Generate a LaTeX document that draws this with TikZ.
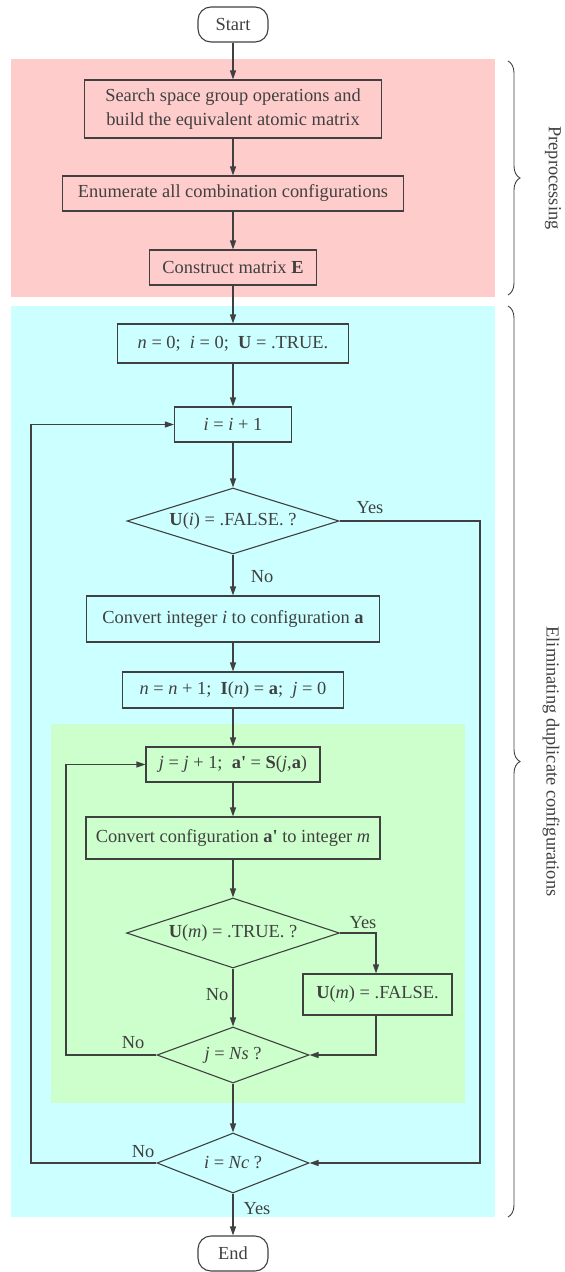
\documentclass[tikz,border=0pt]{standalone}
\usepackage{fontspec}
\setmainfont{Liberation Serif}
\usetikzlibrary{shapes.geometric,arrows.meta,decorations.pathreplacing}
\definecolor{flow-gray}{RGB}{64,64,64}
\definecolor{prep-pink}{RGB}{255,204,204}
\definecolor{elim-cyan}{RGB}{204,255,255}
\definecolor{inner-green}{RGB}{204,255,204}
\tikzset{
    flow-arrow/.style = {draw=flow-gray, line width=1.1pt, -{Triangle[length=9pt,width=6pt]}},
    flow-box/.style = {draw=flow-gray, line width=1.1pt, rectangle, inner sep=0pt, align=center, text=flow-gray},
    end-box/.style = {flow-box, rounded corners=13pt, minimum width=70pt, minimum height=35pt},
    ask-box/.style = {draw=flow-gray, line width=1.1pt, diamond, aspect=3.2, inner sep=0pt, text=flow-gray},
    answer-text/.style = {text=flow-gray, inner sep=0pt},
    side-brace/.style = {draw=flow-gray, line width=0.9pt, decorate, decoration={brace, amplitude=12pt}},
}

\begin{document}
\begin{tikzpicture}[x=1pt, y=-1pt, font=\fontsize{18.4}{23.3}\selectfont]
\useasboundingbox (0,0) rectangle (565,1272);
\fill[prep-pink] (11,59) rectangle (495,297);
\fill[elim-cyan] (11,306) rectangle (495,1217);
\fill[inner-green] (51,724) rectangle (465,1103);

\node[end-box] (start) at (233,24.5) {Start};
\node[flow-box, minimum width=297pt, minimum height=58pt] (search) at (233,109) {Search space group operations and\\build the equivalent atomic matrix};
\node[flow-box, minimum width=341pt, minimum height=35pt] (enum) at (233,193.5) {Enumerate all combination configurations};
\node[flow-box, minimum width=167pt, minimum height=35pt] (matrix) at (233,267.5) {Construct matrix \textbf{E}};
\node[flow-box, minimum width=231pt, minimum height=39pt] (init) at (233,343.5) {\textit{n} = 0;~ \textit{i} = 0;~ \textbf{U} = .TRUE.};
\node[flow-box, minimum width=117pt, minimum height=35pt] (inc-i) at (233,424.5) {\textit{i} = \textit{i} + 1};
\node[ask-box, minimum width=212pt, minimum height=66pt] (ask-ui) at (233,521) {\textbf{U}(\textit{i}) = .FALSE. ?};
\node[flow-box, minimum width=293pt, minimum height=46pt] (to-config) at (233,619) {Convert integer \textit{i} to configuration \textbf{a}};
\node[flow-box, minimum width=221pt, minimum height=36pt] (inc-n) at (233,690) {\textit{n} = \textit{n} + 1;~ \textbf{I}(\textit{n}) = \textbf{a};~ \textit{j} = 0};
\node[flow-box, minimum width=174pt, minimum height=35pt] (inc-j) at (233,764.5) {\textit{j} = \textit{j} + 1;~ \textbf{a}\textbf{\textquotesingle} = \textbf{S}(\textit{j},\textbf{a})};
\node[flow-box, minimum width=294pt, minimum height=42pt] (to-int) at (233,838) {Convert configuration \textbf{a}\textbf{\textquotesingle} to integer \textit{m}};
\node[ask-box, minimum width=213pt, minimum height=70pt] (ask-um) at (233,933) {\textbf{U}(\textit{m}) = .TRUE. ?};
\node[flow-box, minimum width=149pt, minimum height=41pt] (set-false) at (377.5,994.5) {\textbf{U}(\textit{m}) = .FALSE.};
\node[ask-box, minimum width=152pt, minimum height=56pt] (ask-ns) at (233,1055) {\textit{j} = \textit{Ns} ?};
\node[ask-box, minimum width=152pt, minimum height=60pt] (ask-nc) at (233,1163) {\textit{i} = \textit{Nc} ?};
\node[end-box] (end) at (233,1253.5) {End};

\coordinate (outer-loop) at (31,0);
\coordinate (inner-loop) at (66,0);
\coordinate (yes-side) at (480,0);

\draw[flow-arrow] (start) -- (search);
\draw[flow-arrow] (search) -- (enum);
\draw[flow-arrow] (enum) -- (matrix);
\draw[flow-arrow] (matrix) -- (init);
\draw[flow-arrow] (init) -- (inc-i);
\draw[flow-arrow] (inc-i) -- (ask-ui);
\draw[flow-arrow] (ask-ui) -- (to-config);
\draw[flow-arrow] (to-config) -- (inc-n);
\draw[flow-arrow] (inc-n) -- (inc-j);
\draw[flow-arrow] (inc-j) -- (to-int);
\draw[flow-arrow] (to-int) -- (ask-um);
\draw[flow-arrow] (ask-um) -- (ask-ns);
\draw[flow-arrow] (ask-ns) -- (ask-nc);
\draw[flow-arrow] (ask-nc) -- (end);
\draw[flow-arrow] (ask-um.east) -| (set-false.north -| 376,0);
\draw[flow-arrow] (set-false.south -| 376,0) |- (ask-ns.east);
\draw[flow-arrow] (ask-ns.west) -| (inner-loop |- inc-j.west) -- (inc-j.west);
\draw[flow-arrow] (ask-nc.west) -| (outer-loop |- inc-i.west) -- (inc-i.west);
\draw[flow-arrow] (ask-ui.east) -| (yes-side |- ask-nc.east) -- (ask-nc.east);

\node[answer-text] (yes-ui) at (370,508) {Yes};
\node[answer-text] (no-ui) at (262,577) {No};
\node[answer-text] (yes-um) at (363,923) {Yes};
\node[answer-text] (no-um) at (217,995) {No};
\node[answer-text] (no-ns) at (133,1043) {No};
\node[answer-text] (no-nc) at (143,1152) {No};
\node[answer-text] (yes-nc) at (257,1209) {Yes};

\draw[side-brace] (508,61) -- (508,295);
\draw[side-brace] (508,306) -- (508,1217);
\node[answer-text, rotate=-90] (prep-label) at (553,178) {Preprocessing};
\node[answer-text, rotate=-90] (elim-label) at (551,761.5) {Eliminating duplicate configurations};
\end{tikzpicture}
\end{document}
